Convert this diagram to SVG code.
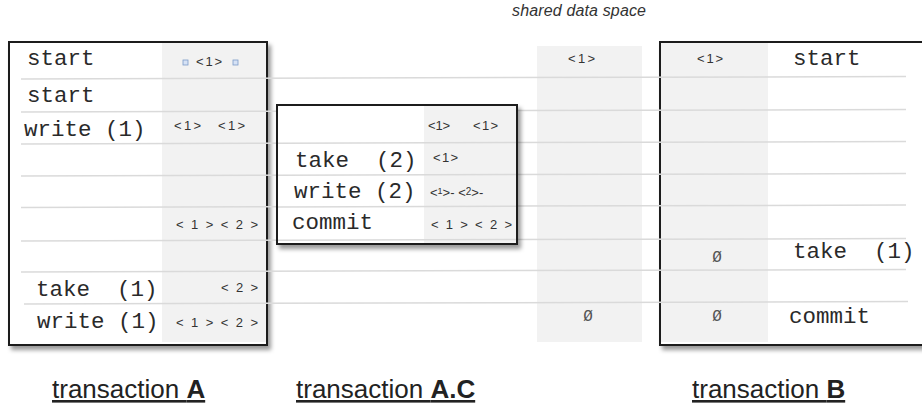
<svg xmlns="http://www.w3.org/2000/svg" width="922" height="405" viewBox="0 0 922 405">
<style>
.mono{font-family:"Liberation Mono","Courier New",monospace;font-size:22.5px;fill:#2a2a2a}
.sm{font-family:"Liberation Sans",Arial,sans-serif;font-size:13px;fill:#333}
.z{font-family:"Liberation Mono","Courier New",monospace;font-size:16px;fill:#555}
.lbl{font-family:"Liberation Sans",Arial,sans-serif;font-size:26px;fill:#222;text-decoration:underline}
.ttl{font-family:"Liberation Sans",Arial,sans-serif;font-size:16px;font-style:italic;fill:#333}
.box{fill:#fff;stroke:#1a1a1a;stroke-width:2;filter:url(#sh)}
.col{fill:#f2f2f2}
.row{stroke:#dadada;stroke-width:1.5;fill:none}
.hdl{fill:#d6e2f5;stroke:#7d9cc8;stroke-width:0.8}
</style>
<defs>
<filter id="sh" x="-5%" y="-5%" width="115%" height="115%">
<feDropShadow dx="3" dy="4" stdDeviation="2" flood-color="#000" flood-opacity="0.4"/>
</filter>
</defs>
<rect width="922" height="405" fill="#fff"/>
<text class="ttl" x="512" y="16" textLength="134">shared data space</text>

<g id="transactionA">
<rect class="box" x="9" y="42" width="258" height="303"/>
<rect class="col" x="162" y="43" width="104" height="299"/>
</g>
<g id="sharedSpace">
<rect class="col" x="537" y="46" width="105" height="296"/>
</g>
<g id="transactionB">
<rect class="box" x="660" y="42" width="290" height="303"/>
<rect class="col" x="661" y="43" width="107" height="299"/>
</g>

<g id="connectors">
<line class="row" x1="21" y1="79" x2="906" y2="76.5"/>
<line class="row" x1="21" y1="112" x2="277" y2="111.3"/>
<line class="row" x1="517" y1="110.6" x2="906" y2="109.5"/>
<line class="row" x1="21" y1="144" x2="906" y2="141.5"/>
<line class="row" x1="21" y1="176" x2="906" y2="173.5"/>
<line class="row" x1="21" y1="207.5" x2="906" y2="205"/>
<line class="row" x1="21" y1="241" x2="906" y2="238.5"/>
<line class="row" x1="21" y1="272" x2="906" y2="269.5"/>
<line class="row" x1="24" y1="304" x2="908" y2="301.5"/>
</g>

<g id="transactionAC">
<rect class="box" x="277" y="105" width="240" height="139"/>
<rect class="col" x="424" y="106" width="92" height="137"/>
<line class="row" x1="278" y1="143.3" x2="516" y2="142.6"/>
<line class="row" x1="278" y1="175.3" x2="516" y2="174.6"/>
<line class="row" x1="278" y1="207" x2="516" y2="206.3"/>
<line class="row" x1="278" y1="240.3" x2="516" y2="239.6"/>
<text class="mono" x="295" y="167" xml:space="preserve">take  (2)</text>
<text class="mono" x="294" y="198" xml:space="preserve">write (2)</text>
<text class="mono" x="292" y="229">commit</text>
<text class="sm" x="428" y="130" textLength="22">&lt;1&gt;</text>
<text class="sm" x="473" y="130" textLength="25">&lt;1&gt;</text>
<text class="sm" x="433" y="162" textLength="25">&lt;1&gt;</text>
<text class="sm" x="430" y="197">&lt;<tspan dy="-3" font-size="9">1</tspan><tspan dy="3">&gt;- &lt;</tspan><tspan dy="-2" font-size="10">2</tspan><tspan dy="2">&gt;-</tspan></text>
<text class="sm" x="431" y="229" textLength="81" xml:space="preserve">&lt; 1 &gt; &lt; 2 &gt;</text>
</g>

<g id="transactionA-text">
<text class="mono" x="27" y="65">start</text>
<text class="mono" x="27" y="102">start</text>
<text class="mono" x="24" y="136">write (1)</text>
<text class="mono" x="36" y="296" xml:space="preserve">take  (1)</text>
<text class="mono" x="37" y="328">write (1)</text>
<rect class="hdl" x="183" y="60" width="5" height="5"/>
<rect class="hdl" x="233" y="60" width="5" height="5"/>
<text class="sm" x="196" y="66" textLength="26">&lt;1&gt;</text>
<text class="sm" x="174" y="130" textLength="27">&lt;1&gt;</text>
<text class="sm" x="218" y="130" textLength="27">&lt;1&gt;</text>
<text class="sm" x="176" y="229" textLength="82" xml:space="preserve">&lt; 1 &gt; &lt; 2 &gt;</text>
<text class="sm" x="221" y="292" textLength="37" xml:space="preserve">&lt; 2 &gt;</text>
<text class="sm" x="176" y="327" textLength="82" xml:space="preserve">&lt; 1 &gt; &lt; 2 &gt;</text>
</g>

<g id="sharedSpace-text">
<text class="sm" x="568" y="63" textLength="27">&lt;1&gt;</text>
<text class="z" x="588" y="321" text-anchor="middle">Ø</text>
</g>

<g id="transactionB-text">
<text class="sm" x="697" y="63" textLength="26">&lt;1&gt;</text>
<text class="mono" x="793" y="65">start</text>
<text class="z" x="717" y="262" text-anchor="middle">Ø</text>
<text class="mono" x="793" y="258" xml:space="preserve">take  (1)</text>
<text class="z" x="717" y="321" text-anchor="middle">Ø</text>
<text class="mono" x="789" y="323">commit</text>
</g>

<g id="labels">
<text class="lbl" x="52" y="398">transaction <tspan font-weight="bold">A</tspan></text>
<text class="lbl" x="296" y="398">transaction <tspan font-weight="bold">A.C</tspan></text>
<text class="lbl" x="692" y="398">transaction <tspan font-weight="bold">B</tspan></text>
</g>
</svg>
